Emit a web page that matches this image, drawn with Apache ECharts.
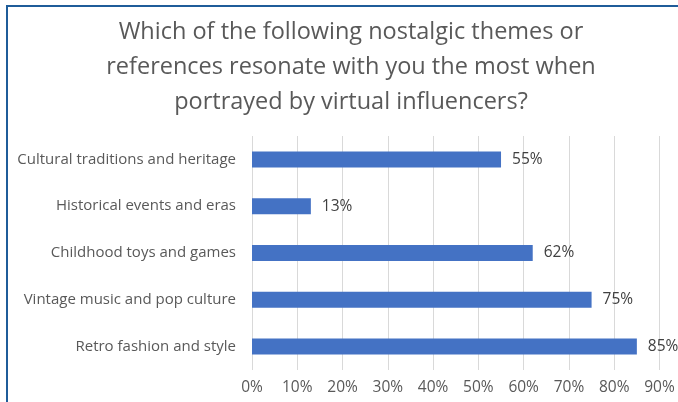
<!DOCTYPE html>
<html>
<head>
<meta charset="utf-8">
<script src="https://cdn.jsdelivr.net/npm/echarts@6/dist/echarts.min.js"></script>
<style>
html,body{margin:0;padding:0;background:#fff;}
#chart{width:678px;height:402px;}
</style>
</head>
<body>
<div id="chart"></div>
<script>
const titleText = 'Which of the following nostalgic themes or\nreferences resonate with you the most when\nportrayed by virtual influencers?';
const categories = [
  'Retro fashion and style',
  'Vintage music and pop culture',
  'Childhood toys and games',
  'Historical events and eras',
  'Cultural traditions and heritage'
];
const values = [85, 75, 62, 13, 55];
const axisTicks = [0, 10, 20, 30, 40, 50, 60, 70, 80, 90];

const chart = echarts.init(document.getElementById('chart'));
chart.setOption({
  backgroundColor: '#ffffff',
  animation: false,
  title: {
    text: titleText,
    left: 346,
    textAlign: 'center',
    top: 10,
    textStyle: {
      color: '#595959',
      fontSize: 23.5,
      fontWeight: 'normal',
      fontFamily: 'Open Sans, sans-serif',
      lineHeight: 35
    }
  },
  graphic: [{
    type: 'polyline',
    shape: { points: [[7, 402], [7, 6], [678, 6]] },
    style: { stroke: '#1F5C99', lineWidth: 2, fill: null }
  }],
  grid: { left: 252, right: 18.5, top: 136, bottom: 32, containLabel: false },
  xAxis: {
    type: 'value',
    min: axisTicks[0],
    max: axisTicks[axisTicks.length - 1],
    interval: 10,
    axisLine: { show: false },
    axisTick: { show: false },
    splitLine: { lineStyle: { color: '#D9D9D9', width: 1 } },
    axisLabel: {
      formatter: v => v + '%',
      color: '#595959',
      fontSize: 15.5,
      fontFamily: 'Open Sans, sans-serif',
      margin: 10
    }
  },
  yAxis: {
    type: 'category',
    data: categories,
    axisLine: { show: false },
    axisTick: { show: false },
    axisLabel: {
      color: '#595959',
      fontSize: 15,
      fontFamily: 'Open Sans, sans-serif',
      margin: 16
    }
  },
  series: [{
    type: 'bar',
    data: values,
    barWidth: 16,
    itemStyle: { color: '#4472C4' },
    label: {
      show: true,
      position: 'right',
      distance: 11,
      formatter: p => p.value + '%',
      color: '#404040',
      fontSize: 15.5,
      fontFamily: 'Open Sans, sans-serif'
    }
  }]
});
</script>
</body>
</html>
